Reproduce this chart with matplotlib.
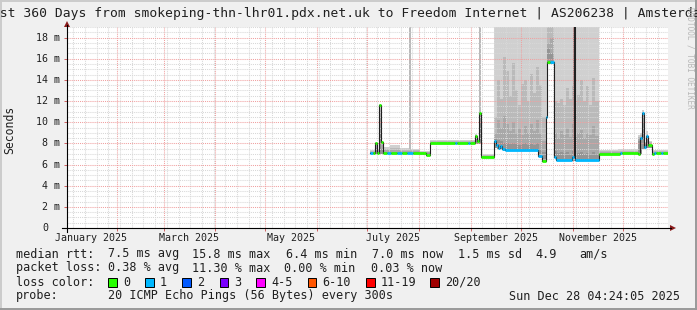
import datetime as dt

import matplotlib

matplotlib.use("Agg")
import matplotlib.dates as mdates
import matplotlib.pyplot as plt
from matplotlib.patches import Polygon, Rectangle
from matplotlib.ticker import MultipleLocator
from matplotlib.transforms import blended_transform_factory

W, H = 697, 310
MONO = "DejaVu Sans Mono"

START = dt.datetime(2025, 1, 2, 4, 24, 5)
SPAN_DAYS = 360.0
Y_MAX = 19.0  # ms

TITLE = ("Last 360 Days from smokeping-thn-lhr01.pdx.net.uk to "
         "Freedom Internet | AS206238 | Amsterdam")

Y_TICKS = [0, 2, 4, 6, 8, 10, 12, 14, 16, 18]
Y_TICK_LABELS = ["0", "2 m", "4 m", "6 m", "8 m", "10 m", "12 m", "14 m", "16 m", "18 m"]
MONTH_LABELS = ["January 2025", "March 2025", "May 2025", "July 2025",
                "September 2025", "November 2025"]
MONTH_LABEL_NUMS = [1, 3, 5, 7, 9, 11]

# median rtt as steps: day offset from START, ms, lost pings (of 20)
med_day = [181.5, 183.3, 184.2, 185.4, 187.0, 188.1, 189.3, 191.7, 194.1, 197.7,
           200.7, 203.7, 207.3, 215.1, 217.5, 232.5, 233.7, 240.3, 241.5, 244.5,
           245.7, 246.9, 247.8, 255.5, 256.7, 258.2, 259.4, 260.6, 262.4, 282.2,
           284.6, 287.0, 287.6, 289.4, 291.5, 293.0, 302.6, 303.5, 304.1, 318.5,
           331.5, 332.7, 342.1, 343.0, 344.5, 345.7, 346.9, 348.1, 350.3, 351.5,
           353.0, 356.0, 357.2]
med_ms = [7.1, 7.1, 8.0, 7.1, 11.6, 8.1, 7.1, 7.1, 7.05, 7.1,
          7.1, 7.05, 7.1, 6.9, 8.0, 8.0, 8.0, 8.0, 8.0, 8.7,
          8.2, 10.9, 6.75, 8.2, 7.8, 7.6, 7.75, 7.45, 7.35, 6.8,
          6.35, 10.5, 15.7, 15.7, 6.75, 6.45, 6.75, 19.5, 6.45, 7.0,
          7.05, 7.05, 7.0, 8.5, 10.9, 7.7, 8.65, 7.85, 7.0, 7.07,
          7.07, 7.07, 7.07]
med_loss = [1, 0, 0, 0, 0, 0, 0, 1, 0, 1,
            0, 1, 0, 0, 0, 1, 0, 1, 0, 0,
            0, 0, 0, 1, 1, 1, 1, 1, 1, 1,
            0, 1, 0, 1, 1, 1, 1, 0, 1, 0,
            1, 0, 0, 1, 1, 1, 1, 0, 0, 1,
            0, 1, 0]

# smoke: day offset, lowest ping, then tops of the grey bands (dark -> light)
smoke_day = [181.5, 184.2, 185.4, 187.0, 188.1, 189.3, 193.5, 199.5, 205.0, 205.9,
             211.5, 217.5, 229.5, 244.5, 245.7, 246.9, 247.8,
             255.5, 257.3, 259.1, 260.9, 262.7, 264.5, 266.3, 268.1, 269.9,
             271.7, 273.5, 275.3, 277.1, 278.9, 280.7, 282.5, 284.6, 287.3,
             289.4, 291.5, 293.3, 295.1, 296.9, 298.7, 300.5, 302.3, 303.2,
             303.8, 305.6, 307.4, 309.2, 311.0, 312.8, 314.6, 316.4,
             318.5, 330.0, 342.1, 343.3, 344.5, 345.7, 346.9, 348.1, 350.3]
smoke_lo = [7.0, 7.0, 7.0, 7.0, 7.0, 7.0, 7.0, 7.0, 7.0, 7.0,
            6.9, 7.95, 7.95, 7.95, 7.95, 7.95, 6.7,
            7.6, 7.5, 7.5, 7.3, 7.25, 7.25, 7.25, 7.25, 7.25,
            7.25, 7.25, 7.25, 7.25, 7.25, 7.25, 6.7, 6.3, 15.5,
            15.5, 6.6, 6.35, 6.35, 6.35, 6.35, 6.35, 6.6, 6.35,
            6.35, 6.35, 6.35, 6.35, 6.35, 6.35, 6.35, 6.35,
            6.95, 7.0, 7.0, 7.0, 7.5, 7.5, 7.6, 7.6, 6.95]
smoke_core = [7.15, 7.6, 7.2, 9.0, 7.5, 7.2, 7.2, 7.15, 7.2, 7.15,
              7.05, 8.05, 8.05, 8.5, 8.1, 10.0, 6.8,
              8.4, 8.3, 8.2, 8.0, 8.0, 7.9, 8.0, 7.9, 7.8,
              7.9, 8.0, 7.8, 7.9, 7.8, 8.0, 7.5, 7.2, 17.0,
              16.5, 7.3, 7.1, 7.2, 7.1, 7.2, 7.0, 7.3, 19.5,
              7.0, 7.1, 7.2, 7.0, 7.1, 7.0, 7.2, 7.0,
              7.1, 7.1, 8.2, 8.3, 10.0, 7.8, 8.5, 7.9, 7.1]
smoke_inner = [7.2, 7.9, 7.3, 10.5, 7.8, 7.35, 7.4, 7.3, 7.3, 7.25,
               7.15, 8.15, 8.15, 8.75, 8.25, 10.9, 6.85,
               9.0, 10.2, 9.5, 10.6, 9.8, 9.2, 10.0, 9.0, 9.5,
               8.8, 9.6, 9.0, 9.8, 9.2, 10.2, 9.0, 8.2, 17.5,
               18.0, 9.0, 8.5, 9.2, 8.8, 9.5, 8.6, 9.8, 19.5,
               8.7, 9.0, 9.3, 8.5, 9.0, 8.8, 9.6, 8.7,
               7.2, 7.2, 8.5, 8.6, 10.9, 7.9, 8.7, 8.0, 7.2]
smoke_mid = [7.25, 8.0, 7.35, 11.2, 8.1, 7.5, 7.55, 7.4, 19.5, 7.35,
             7.2, 8.2, 8.25, 8.8, 8.3, 19.5, 6.9,
             10.5, 14.0, 12.2, 16.2, 14.8, 12.5, 15.6, 13.0, 11.6,
             13.6, 14.0, 12.0, 14.6, 12.8, 15.2, 13.5, 10.5, 19.5,
             19.5, 12.0, 11.8, 12.2, 11.6, 13.2, 12.2, 13.5, 19.5,
             11.8, 12.6, 14.0, 12.0, 13.4, 11.6, 14.2, 12.0,
             7.3, 7.3, 8.6, 8.8, 11.0, 8.0, 8.9, 8.1, 7.3]
smoke_hi = [7.35, 8.1, 7.45, 11.7, 8.2, 7.65, 7.8, 7.55, 19.5, 7.5,
            7.3, 8.3, 8.35, 8.9, 8.4, 19.5, 7.0,
            19.5, 19.5, 19.5, 19.5, 19.5, 19.5, 19.5, 19.5, 19.5,
            19.5, 19.5, 19.5, 19.5, 19.5, 19.5, 19.5, 19.5, 19.5,
            19.5, 19.5, 19.5, 19.5, 19.5, 19.5, 19.5, 19.5, 19.5,
            19.5, 19.5, 19.5, 19.5, 19.5, 19.5, 19.5, 19.5,
            7.4, 7.5, 8.8, 9.0, 11.2, 8.1, 9.2, 8.2, 7.4]

LOSS_MAX = [0, 1, 2, 3, 5, 10, 19, 20]
LOSS_NAMES = ["0", "1", "2", "3", "4-5", "6-10", "11-19", "20/20"]
LOSS_COLORS = ["#26ff00", "#00b8ff", "#0059ff", "#7a00ff", "#ff00ff",
               "#ff5500", "#ff0000", "#a00000"]

STATS_MEDIAN = ["median rtt:", "7.5 ms avg", "15.8 ms max", "6.4 ms min",
                "7.0 ms now", "1.5 ms sd", "4.9", "am/s"]
STATS_LOSS = ["packet loss:", "0.38 % avg", "11.30 % max", "0.00 % min", "0.03 % now"]
PROBE = "20 ICMP Echo Pings (56 Bytes) every 300s"
STAMP = "Sun Dec 28 04:24:05 2025"

BACK, SHADEA, SHADEB = "#f0f0f0", "#cbcbcb", "#999999"
MGRID, GRID = "#f0a0a0", "#d8d8d8"
ARROW = "#8b1c1c"
GREYS = ["#d0d0d0", "#bababa", "#a8a8a8", "#949494"]


def fx(px):
    return px / W


def fy(py):
    return 1 - py / H


def loss_color(n):
    for top, col in zip(LOSS_MAX, LOSS_COLORS):
        if n <= top:
            return col
    return LOSS_COLORS[-1]


x0 = mdates.date2num(START)

fig = plt.figure(figsize=(W / 100, H / 100), dpi=100, facecolor=BACK)
ax = fig.add_axes([fx(67), fy(228), fx(668) - fx(67), fy(27) - fy(228)])
ax.set_facecolor("white")
ax.set_xlim(x0, x0 + SPAN_DAYS)
ax.set_ylim(0, Y_MAX)
for s in ax.spines.values():
    s.set_visible(False)

# smoke bands, lightest/widest first
sx = [x0 + d for d in smoke_day] + [x0 + SPAN_DAYS]
for tops, col in zip([smoke_hi, smoke_mid, smoke_inner, smoke_core], GREYS):
    ax.fill_between(sx, smoke_lo + smoke_lo[-1:], tops + tops[-1:], step="post",
                    color=col, lw=0, zorder=1)

# grid
ax.xaxis.set_major_locator(mdates.MonthLocator())
ax.xaxis.set_minor_locator(mdates.WeekdayLocator(byweekday=mdates.MO))
ax.yaxis.set_major_locator(MultipleLocator(2))
ax.yaxis.set_minor_locator(MultipleLocator(0.5))
ax.grid(which="minor", color=GRID, ls=(0, (1, 1)), lw=0.75, zorder=1.5)
ax.grid(which="major", color=MGRID, ls=(0, (1, 1)), lw=0.75, zorder=1.6)
ax.tick_params(which="both", labelbottom=False, labelleft=False)
ax.tick_params(which="major", length=2, width=0.7, color="#d06060")
ax.tick_params(which="minor", length=0)

# median line coloured by loss
mx = [x0 + d for d in med_day] + [x0 + SPAN_DAYS]
ax.step(mx, med_ms + med_ms[-1:], where="post", color="#202020", lw=0.8, zorder=3)
for i, (v, n) in enumerate(zip(med_ms, med_loss)):
    ax.hlines(v, mx[i], mx[i + 1], color=loss_color(n), lw=2.0, zorder=4)

# axes with arrows
fig.add_artist(plt.Line2D([fx(62), fx(671)], [fy(228), fy(228)], color="black", lw=0.8))
fig.add_artist(plt.Line2D([fx(67), fx(67)], [fy(232), fy(25)], color="black", lw=0.8))
fig.add_artist(Polygon([(fx(670), fy(225)), (fx(676), fy(228)), (fx(670), fy(231))],
                       closed=True, color=ARROW, lw=0))
fig.add_artist(Polygon([(fx(64), fy(27)), (fx(67), fy(21)), (fx(70), fy(27))],
                       closed=True, color=ARROW, lw=0))

# y labels
ty = blended_transform_factory(fig.transFigure, ax.transData)
for v, lab in zip(Y_TICKS, Y_TICK_LABELS):
    right = 60 if " " in lab else 48
    ax.text(fx(right), v, lab, transform=ty, ha="right", va="center",
            family=MONO, fontsize=7.2, color="#202020")
fig.text(fx(10), fy(130), "Seconds", rotation=90, ha="center", va="center",
         family=MONO, fontsize=8.3, color="#202020")

# month labels centred within their month
tx = blended_transform_factory(ax.transData, fig.transFigure)
for m, lab in zip(MONTH_LABEL_NUMS, MONTH_LABELS):
    a = mdates.date2num(dt.datetime(2025, m, 1))
    b = mdates.date2num(dt.datetime(2025, m + 1, 1))
    ax.text((a + b) / 2, fy(238), lab, transform=tx, ha="center", va="center",
            family=MONO, fontsize=7.2, color="#202020", clip_on=False)

fig.text(fx(-16), fy(14), TITLE, ha="left", va="center", family=MONO,
         fontsize=9.4, color="#202020")
fig.text(fx(690), fy(58), "RRDTOOL / TOBI OETIKER", rotation=270, ha="center",
         va="center", family=MONO, fontsize=5.6, color="#b8b8b8")

# legend block
LEG = dict(family=MONO, fontsize=8.5, color="#202020", va="center")
for x, s in zip([16, 107.5, 192.5, 286, 372, 458, 535.5, 579], STATS_MEDIAN):
    fig.text(fx(x), fy(254), s, **LEG)
for x, s in zip([16, 107.5, 192.5, 284.5, 371], STATS_LOSS):
    fig.text(fx(x), fy(268), s, **LEG)
fig.text(fx(16), fy(282), "loss color:", **LEG)
for bx, name, col in zip([108, 145, 182, 219.5, 256, 307.5, 366, 430], LOSS_NAMES, LOSS_COLORS):
    fig.add_artist(Rectangle((fx(bx), fy(286.5)), fx(8.5), fy(278) - fy(286.5),
                             facecolor=col, edgecolor="black", lw=0.7))
    fig.text(fx(bx + 15), fy(282), name, **LEG)
fig.text(fx(16), fy(296), "probe:", **LEG)
fig.text(fx(107.5), fy(296), PROBE, **LEG)
fig.text(fx(680), fy(296), STAMP, ha="right", **LEG)

# 3d-ish frame
fig.add_artist(plt.Line2D([0, 1], [fy(0.5), fy(0.5)], color=SHADEA, lw=1.4))
fig.add_artist(plt.Line2D([fx(0.5), fx(0.5)], [0, 1], color=SHADEA, lw=1.4))
fig.add_artist(plt.Line2D([0, 1], [fy(309), fy(309)], color=SHADEB, lw=1.4))
fig.add_artist(plt.Line2D([fx(696), fx(696)], [0, 1], color=SHADEB, lw=1.4))

fig.savefig("out.png", dpi=100, facecolor=BACK)
